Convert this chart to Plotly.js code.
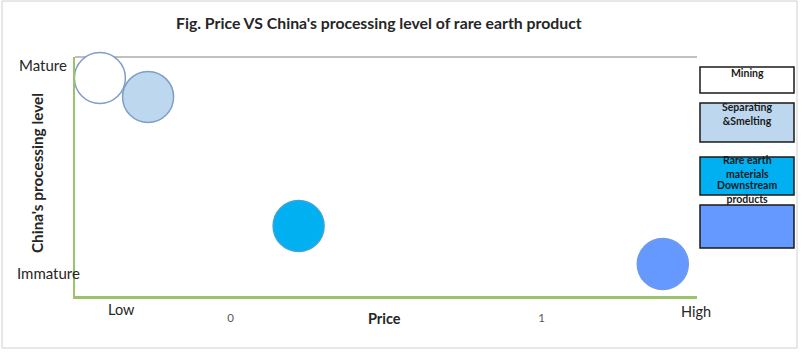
<!DOCTYPE html>
<html>
<head>
<meta charset="utf-8">
<script src="https://cdn.plot.ly/plotly-3.0.1.min.js"></script>
<style>
  html, body { margin: 0; padding: 0; background: #ffffff; }
  #chart { width: 802px; height: 356px; }
</style>
</head>
<body>
<div id="chart"></div>
<script>
// ---- Data ----
const categories = ["Mining", "Separating &Smelting", "Rare earth materials", "Downstream products"];
const priceValues = [-0.42, -0.265, 0.219, 1.39];
const levelValues = [0.912, 0.833, 0.293, 0.134];
const xTickVals = [0, 1];
const xTickText = ["0", "1"];
const priceLabels = ["Low", "High"];
const levelLabels = ["Mature", "Immature"];
const legendLabels = ["Mining", "Separating<br>&Smelting", "Rare earth<br>materials", "Downstream<br>products"];

// ---- Styles ----
const fillColors = ["#ffffff", "#bdd7ee", "#00b0f0", "#6699ff"];
const lineColors = ["#7f9ec8", "#7f9ec8", "#3aa6d6", "#6f9ae8"];
const FONT = "Lato, 'Open Sans', sans-serif";

// layout geometry (pixels)
const L = 75, R = 697, T = 57, B = 296;
const W = 802, H = 356;
const px = x => (x - L) / (R - L);
const py = y => (B - y) / (B - T);

const trace = {
  type: "scatter",
  mode: "markers",
  x: priceValues,
  y: levelValues,
  text: categories,
  hoverinfo: "text",
  marker: {
    size: 51,
    color: fillColors,
    line: { color: lineColors, width: 1.5 }
  },
  showlegend: false,
  cliponaxis: false
};

const shapes = [];
const annotations = [];

// outer frame
shapes.push({ type: "rect", xref: "paper", yref: "paper",
  x0: px(2), x1: px(797), y0: py(348), y1: py(1),
  line: { color: "#d0d0d0", width: 1 }, fillcolor: "rgba(0,0,0,0)", layer: "below" });
// top gray border of plot area
shapes.push({ type: "line", xref: "paper", yref: "paper",
  x0: 0, x1: 1, y0: 1, y1: 1, line: { color: "#c0c0c0", width: 2 }, layer: "below" });

// pseudo-legend boxes
const boxTops = [67, 103, 157, 205];
const boxBottoms = [93, 142, 195, 248];
const labelYs = [73, 114, 167, 192];
for (let i = 0; i < categories.length; i++) {
  shapes.push({ type: "rect", xref: "paper", yref: "paper",
    x0: px(700), x1: px(794), y0: py(boxBottoms[i]), y1: py(boxTops[i]),
    fillcolor: fillColors[i], line: { color: "#1a1a1a", width: 1.5 }, layer: "above" });
}
for (let i = 0; i < categories.length; i++) {
  annotations.push({ xref: "paper", yref: "paper", x: px(747), y: py(labelYs[i]),
    text: "<b>" + legendLabels[i] + "</b>", showarrow: false, xanchor: "center", yanchor: "middle",
    font: { family: FONT, size: 10.5, color: "#1a1a1a" }, align: "center" });
}

// title
annotations.push({ xref: "paper", yref: "paper", x: px(379), y: py(22),
  text: "<b>Fig. Price VS China's processing level of rare earth product</b>",
  showarrow: false, xanchor: "center", yanchor: "middle",
  font: { family: FONT, size: 15.8, color: "#262626" } });
// axis titles
annotations.push({ xref: "paper", yref: "paper", x: px(384), y: py(318),
  text: "<b>Price</b>", showarrow: false, xanchor: "center", yanchor: "middle",
  font: { family: FONT, size: 14.5, color: "#262626" } });
annotations.push({ xref: "paper", yref: "paper", x: px(37), y: py(173),
  text: "<b>China's processing level</b>", showarrow: false, textangle: -90,
  xanchor: "center", yanchor: "middle",
  font: { family: FONT, size: 15.3, color: "#262626" } });
// Low / High
annotations.push({ xref: "paper", yref: "paper", x: px(121), y: py(309),
  text: priceLabels[0], showarrow: false, xanchor: "center", yanchor: "middle",
  font: { family: FONT, size: 14.5, color: "#262626" } });
annotations.push({ xref: "paper", yref: "paper", x: px(696), y: py(311),
  text: priceLabels[1], showarrow: false, xanchor: "center", yanchor: "middle",
  font: { family: FONT, size: 14.5, color: "#262626" } });
// Mature / Immature
annotations.push({ xref: "paper", yref: "paper", x: px(69), y: py(65),
  text: levelLabels[0], showarrow: false, xanchor: "right", yanchor: "middle",
  font: { family: FONT, size: 15, color: "#262626" } });
annotations.push({ xref: "paper", yref: "paper", x: px(82), y: py(273),
  text: levelLabels[1], showarrow: false, xanchor: "right", yanchor: "middle",
  font: { family: FONT, size: 15, color: "#262626" } });

const layout = {
  width: W, height: H,
  margin: { l: L, r: W - R, t: T, b: H - B, pad: 0 },
  paper_bgcolor: "#ffffff",
  plot_bgcolor: "#ffffff",
  font: { family: FONT, color: "#262626" },
  xaxis: {
    range: [-0.5, 1.5],
    tickvals: xTickVals,
    ticktext: xTickText,
    tickfont: { family: FONT, size: 11.5, color: "#595959" },
    ticklabelstandoff: 9,
    showgrid: false, zeroline: false,
    showline: true, linecolor: "#9bc46a", linewidth: 3,
    ticks: "", fixedrange: true
  },
  yaxis: {
    range: [0, 1],
    showticklabels: false,
    showgrid: false, zeroline: false,
    showline: true, linecolor: "#9bc46a", linewidth: 2,
    ticks: "", fixedrange: true
  },
  shapes: shapes,
  annotations: annotations,
  showlegend: false
};

Plotly.newPlot("chart", [trace], layout, { displayModeBar: false, staticPlot: true });
</script>
</body>
</html>
